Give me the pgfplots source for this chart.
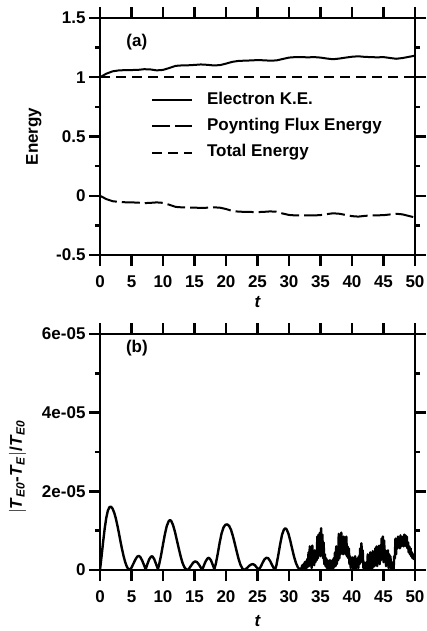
\documentclass[border=0pt]{standalone}
\usepackage{fontspec}
\setmainfont{Liberation Sans}
\usepackage{pgfplots}
\pgfplotsset{compat=1.18}

\newcommand{\lblfont}{\fontsize{17bp}{20bp}\selectfont\bfseries}

\pgfplotsset{
  panel/.style={
    scale only axis,
    width=315bp,
    xmin=0, xmax=50,
    xtick={0,5,...,50},
    xticklabels={0,5,10,15,20,25,30,35,40,45,50},
    tick align=outside,
    major tick length=11bp,
    minor tick length=5bp,
    minor y tick num=1,
    every tick/.style={black, line width=2.4bp},
    separate axis lines,
    axis line style={line width=2.6bp, line cap=rect},
    tick label style={font=\lblfont},
    xticklabel style={yshift=-6bp},
    clip mode=individual,
  },
}

\begin{document}
\begin{tikzpicture}
\path[use as bounding box] (0bp,0bp) rectangle (427bp,-631bp);

% (a) energies
\begin{axis}[panel,
  anchor=south west, at={(100bp,-255bp)},
  height=237bp,
  ymin=-0.5, ymax=1.5,
  ytick={-0.5,0,0.5,1,1.5},
  yticklabels={-0.5,0,0.5,1,1.5},
  legend style={draw=none, fill=none, at={(axis cs:7.6,0.90)}, anchor=north west,
    font=\lblfont, row sep=8bp,
    nodes={inner sep=1bp, text height=12.5bp, text depth=3.6bp}},
  legend cell align=left,
  legend image code/.code={\draw[#1] (0bp,0bp) -- (40bp,0bp);},
  /tikz/every odd column/.append style={column sep=13bp},
]
\addplot[black, line width=2bp] coordinates {
  (0,1.000) (1,1.030) (2,1.050) (3,1.058) (4,1.060) (5,1.061) (6,1.062)
  (7,1.068) (8,1.066) (9,1.058) (10,1.062) (11,1.078) (12,1.096) (13,1.100)
  (14,1.101) (15,1.104) (16,1.108) (17,1.105) (18,1.100) (19,1.102)
  (20,1.115) (21,1.130) (22,1.138) (23,1.140) (24,1.142) (25,1.145)
  (26,1.143) (27,1.140) (28,1.142) (29,1.154) (30,1.166) (31,1.170)
  (32,1.170) (33,1.168) (34,1.170) (35,1.166) (36,1.158) (37,1.152)
  (38,1.158) (39,1.166) (40,1.173) (41,1.177) (42,1.172) (43,1.170)
  (44,1.168) (45,1.170) (46,1.163) (47,1.156) (48,1.162) (49,1.172) (50,1.182)
};
\addlegendentry{Electron K.E.}
\addplot[black, line width=2bp, dash pattern=on 18bp off 5bp] coordinates {
  (0,0.000) (1,-0.028) (2,-0.046) (3,-0.052) (4,-0.055) (5,-0.056) (6,-0.058)
  (7,-0.062) (8,-0.060) (9,-0.056) (10,-0.060) (11,-0.076) (12,-0.094)
  (13,-0.098) (14,-0.099) (15,-0.100) (16,-0.103) (17,-0.101) (18,-0.098)
  (19,-0.100) (20,-0.112) (21,-0.128) (22,-0.134) (23,-0.136) (24,-0.137)
  (25,-0.138) (26,-0.136) (27,-0.132) (28,-0.135) (29,-0.150) (30,-0.162)
  (31,-0.166) (32,-0.167) (33,-0.165) (34,-0.166) (35,-0.163) (36,-0.155)
  (37,-0.148) (38,-0.152) (39,-0.162) (40,-0.172) (41,-0.176) (42,-0.170)
  (43,-0.166) (44,-0.165) (45,-0.164) (46,-0.158) (47,-0.152) (48,-0.157)
  (49,-0.170) (50,-0.184)
};
\addlegendentry{Poynting Flux Energy}
\addplot[black, line width=2bp, dash pattern=on 10bp off 6bp] coordinates {
  (0,1) (50,1)
};
\addlegendentry{Total Energy}
\node[font=\lblfont] at (axis description cs:0.117,0.90) {(a)};
\node[font=\lblfont, rotate=90, anchor=base] at ([xshift=-62bp]axis description cs:0,0.5) {Energy};
\node[font=\lblfont] at ([yshift=-47.5bp]axis description cs:0.5,0) {\itshape t};
\end{axis}

% (b) relative error, values in units of 1e-5
\begin{axis}[panel,
  anchor=south west, at={(100bp,-570bp)},
  height=236bp,
  ymin=0, ymax=6,
  ytick={0,2,4,6},
  yticklabels={0,2e-05,4e-05,6e-05},
]
\addplot[black, line width=2.4bp, line join=round] coordinates {
  (0,0) (0.25,0.35) (0.5,0.72) (0.75,1.06) (1.0,1.33) (1.25,1.51) (1.5,1.60)
  (1.75,1.61) (2.0,1.56) (2.25,1.46) (2.5,1.32) (2.75,1.14) (3.0,0.94)
  (3.25,0.73) (3.5,0.53) (3.75,0.35) (4.0,0.20) (4.25,0.09) (4.5,0.02) (4.7,0.0)
  (5.0,0.06) (5.3,0.16) (5.6,0.26) (5.9,0.34) (6.15,0.36) (6.4,0.33) (6.7,0.24)
  (7.0,0.12) (7.25,0.02)
  (7.5,0.14) (7.8,0.27) (8.1,0.34) (8.3,0.35) (8.6,0.28) (8.9,0.15) (9.2,0.02)
  (9.4,0.15) (9.7,0.38) (10.0,0.65) (10.3,0.91) (10.6,1.12) (10.9,1.24)
  (11.1,1.27) (11.3,1.25) (11.6,1.14) (11.9,0.97) (12.2,0.76) (12.5,0.55)
  (12.8,0.35) (13.1,0.18) (13.4,0.07) (13.7,0.01) (13.9,0.0)
  (14.2,0.05) (14.5,0.12) (14.8,0.19) (15.1,0.22) (15.4,0.20) (15.7,0.14)
  (16.0,0.06) (16.25,0.01)
  (16.5,0.12) (16.8,0.23) (17.1,0.30) (17.3,0.31) (17.6,0.25) (17.9,0.13) (18.15,0.02)
  (18.4,0.17) (18.7,0.42) (19.0,0.70) (19.3,0.93) (19.6,1.08) (19.9,1.15)
  (20.2,1.16) (20.5,1.12) (20.8,1.02) (21.1,0.86) (21.4,0.67) (21.7,0.47)
  (22.0,0.28) (22.3,0.13) (22.6,0.04) (22.8,0.0)
  (23.1,0.02) (23.4,0.06) (23.7,0.11) (24.0,0.14) (24.3,0.15) (24.6,0.12)
  (24.9,0.06) (25.2,0.01)
  (25.5,0.08) (25.8,0.18) (26.1,0.27) (26.4,0.31) (26.7,0.30) (27.0,0.23)
  (27.3,0.13) (27.6,0.04) (27.8,0.01)
  (28.0,0.12) (28.3,0.38) (28.6,0.66) (28.9,0.90) (29.2,1.03) (29.4,1.06)
  (29.6,1.04) (29.9,0.93) (30.2,0.75) (30.5,0.54) (30.8,0.34) (31.1,0.18)
  (31.4,0.07) (31.7,0.02)
  (32.0,0.05) (32.1,0.12) (32.2,0.02) (32.3,0.15) (32.4,0.03) (32.5,0.20)
  (32.6,0.00) (32.7,0.22) (32.8,0.05) (32.9,0.28) (33.0,0.08) (33.1,0.45)
  (33.2,0.10) (33.3,0.60) (33.4,0.15) (33.5,0.55) (33.6,0.05) (33.7,0.62)
  (33.8,0.20) (33.9,0.45) (34.0,0.12) (34.1,0.50) (34.2,0.20) (34.3,0.40)
  (34.4,0.25) (34.5,0.85) (34.6,0.30) (34.7,0.90) (34.8,0.45) (34.9,0.95)
  (35.0,0.35) (35.1,1.06) (35.2,0.50) (35.3,0.90) (35.4,0.30) (35.5,0.70)
  (35.6,0.15) (35.7,0.40) (35.8,0.10) (35.9,0.30) (36.0,0.05) (36.1,0.25)
  (36.2,0.00) (36.3,0.20) (36.4,0.02) (36.5,0.25) (36.6,0.00) (36.7,0.22)
  (36.8,0.05) (36.9,0.25) (37.0,0.00) (37.1,0.30) (37.2,0.08) (37.3,0.45)
  (37.4,0.10) (37.5,0.60) (37.6,0.15) (37.7,0.55) (37.8,0.25) (37.9,0.92)
  (38.0,0.30) (38.1,0.85) (38.2,0.40) (38.3,0.95) (38.4,0.45) (38.5,0.80)
  (38.6,0.40) (38.7,0.85) (38.8,0.50) (38.9,0.75) (39.0,0.40) (39.1,0.85)
  (39.2,0.35) (39.3,0.60) (39.4,0.30) (39.5,0.55) (39.6,0.15) (39.7,0.35)
  (39.8,0.05) (39.9,0.30) (40.0,0.10) (40.1,0.32) (40.2,0.02) (40.3,0.25)
  (40.4,0.08) (40.5,0.35) (40.6,0.00) (40.7,0.28) (40.8,0.10) (40.9,0.30)
  (41.0,0.05) (41.1,0.35) (41.2,0.15) (41.3,0.55) (41.4,0.20) (41.5,0.68)
  (41.6,0.25) (41.7,0.50) (41.8,0.05) (41.9,0.20) (42.0,0.00) (42.1,0.15)
  (42.2,0.02) (42.3,0.20) (42.4,0.00) (42.5,0.40) (42.6,0.05) (42.7,0.35)
  (42.8,0.00) (42.9,0.45) (43.0,0.10) (43.1,0.40) (43.2,0.02) (43.3,0.48)
  (43.4,0.08) (43.5,0.42) (43.6,0.10) (43.7,0.55) (43.8,0.15) (43.9,0.60)
  (44.0,0.10) (44.1,0.50) (44.2,0.20) (44.3,0.62) (44.4,0.15) (44.5,0.55)
  (44.6,0.25) (44.7,0.80) (44.8,0.30) (44.9,0.85) (45.0,0.20) (45.1,0.75)
  (45.2,0.30) (45.3,0.50) (45.4,0.10) (45.5,0.45) (45.6,0.15) (45.7,0.50)
  (45.8,0.05) (45.9,0.40) (46.0,0.12) (46.1,0.35) (46.2,0.02) (46.3,0.20)
  (46.4,0.00) (46.5,0.15) (46.6,0.00) (46.7,0.35) (46.8,0.30) (46.9,0.80)
  (47.0,0.40) (47.1,0.75) (47.2,0.55) (47.3,0.85) (47.4,0.60) (47.5,0.82)
  (47.6,0.55) (47.7,0.88) (47.8,0.60) (47.9,0.80) (48.0,0.65) (48.1,0.85)
  (48.2,0.60) (48.3,0.90) (48.4,0.70) (48.5,0.88) (48.6,0.60) (48.7,0.85)
  (48.8,0.55) (48.9,0.70) (49.0,0.45) (49.1,0.60) (49.2,0.40) (49.3,0.55)
  (49.4,0.35) (49.5,0.45) (49.6,0.30) (49.7,0.40) (49.8,0.28) (49.9,0.35)
  (50.0,0.30)
};
\node[font=\lblfont] at (axis description cs:0.117,0.94) {(b)};
\node[font=\lblfont, rotate=90, anchor=base] at ([xshift=-78bp]axis description cs:0,0.436)
  {$|$\textit{T}\textsubscript{\textit{E0}}-\textit{T}\textsubscript{\textit{E}}$|$/\textit{T}\textsubscript{\textit{E0}}};
\node[font=\lblfont] at ([yshift=-51.5bp]axis description cs:0.5,0) {\itshape t};
\end{axis}
\end{tikzpicture}
\end{document}
